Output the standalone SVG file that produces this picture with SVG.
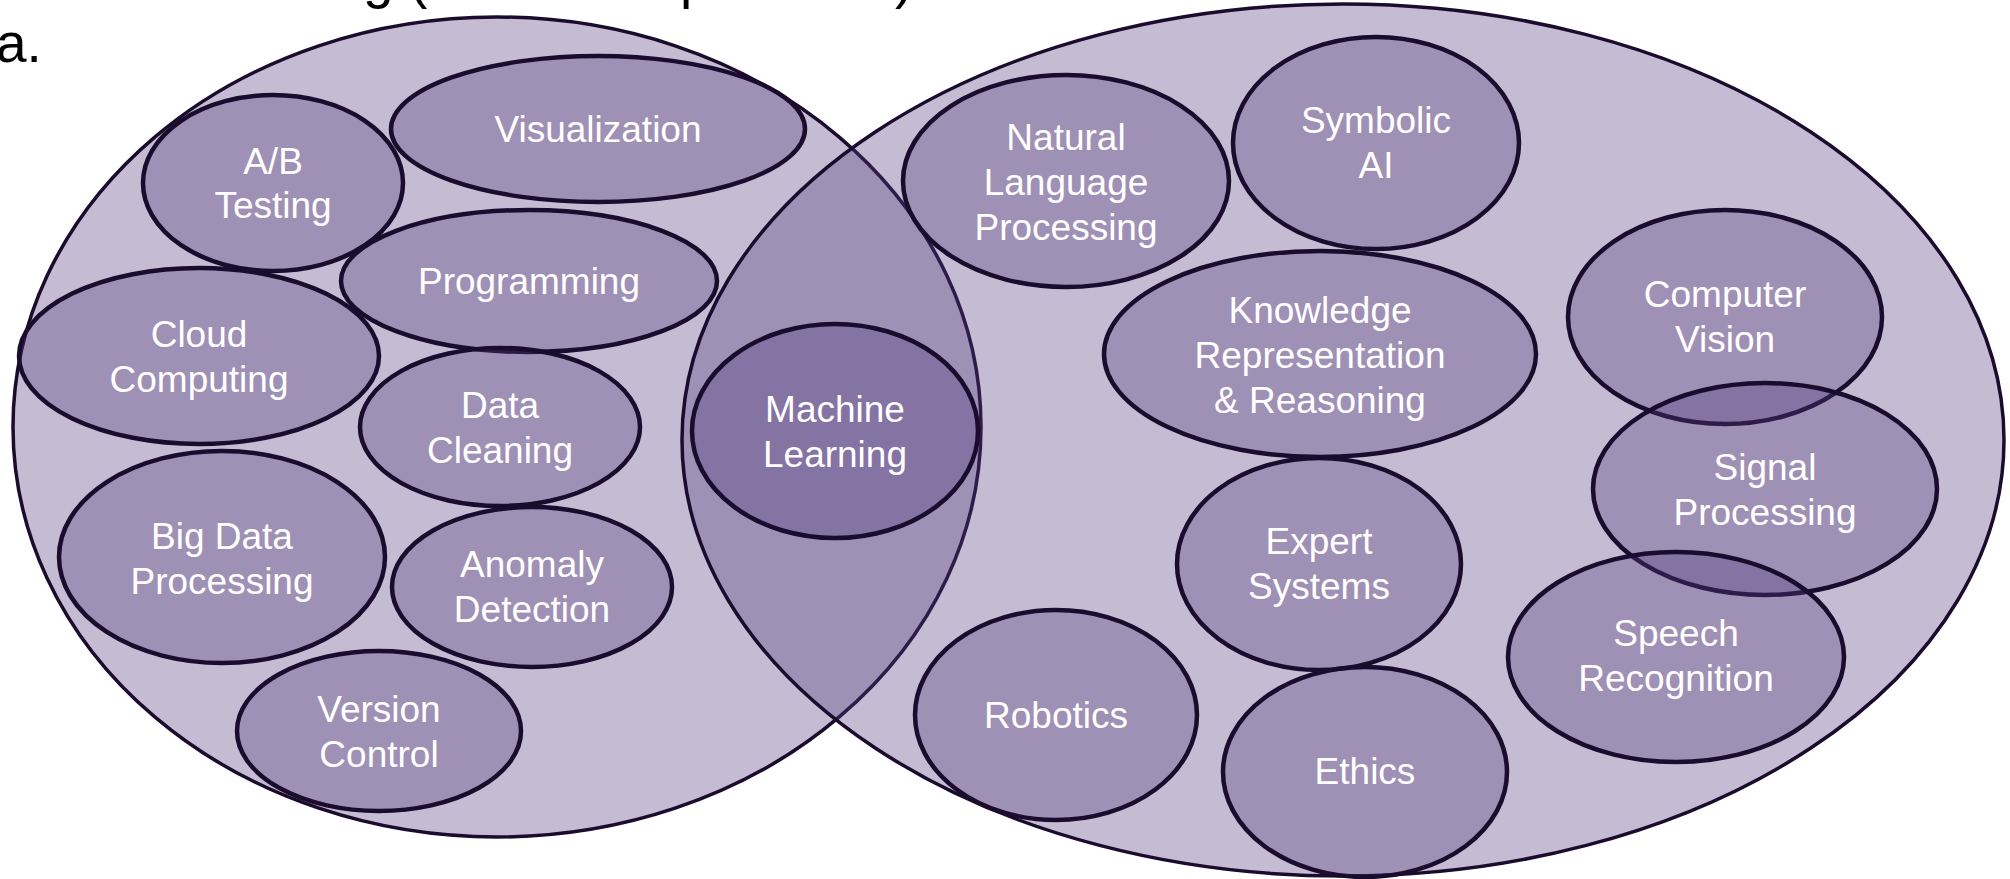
<svg xmlns="http://www.w3.org/2000/svg" width="2010" height="879" viewBox="0 0 2010 879">
<style>
.big{fill:#543a7e;fill-opacity:0.34;stroke:#1b0c2e;stroke-width:3.5}
.n{fill:#543a7e;fill-opacity:0.34;stroke:#1b0c2e;stroke-width:4.5}
.t{font-family:"Liberation Sans",Arial,sans-serif;font-size:37px;fill:#ffffff;text-anchor:middle}
.h{font-family:"Liberation Sans",Arial,sans-serif;font-size:55px;fill:#000000}
</style>
<rect width="2010" height="879" fill="#ffffff"/>
<text class="h" x="-2" y="-3"><tspan x="363">g</tspan><tspan x="409">(</tspan><tspan x="680">p</tspan><tspan x="895">)</tspan></text>
<text class="h" x="-4" y="62">a.</text>
<g id="data-science"><ellipse class="big" cx="497" cy="427" rx="484" ry="410"/></g>
<g id="artificial-intelligence"><ellipse class="big" cx="1343" cy="440" rx="661" ry="436"/></g>
<g id="connectors"></g>
<g id="visualization"><ellipse class="n" cx="598" cy="129" rx="207" ry="73"/><text class="t" x="598" y="142">Visualization</text></g>
<g id="ab-testing"><ellipse class="n" cx="273" cy="183" rx="130" ry="88"/><text class="t" x="273" y="174">A/B</text><text class="t" x="273" y="218">Testing</text></g>
<g id="programming"><ellipse class="n" cx="529" cy="281" rx="188" ry="71"/><text class="t" x="529" y="294">Programming</text></g>
<g id="cloud-computing"><ellipse class="n" cx="199" cy="356" rx="180" ry="88"/><text class="t" x="199" y="347">Cloud</text><text class="t" x="199" y="392">Computing</text></g>
<g id="data-cleaning"><ellipse class="n" cx="500" cy="427" rx="140" ry="79"/><text class="t" x="500" y="418">Data</text><text class="t" x="500" y="463">Cleaning</text></g>
<g id="machine-learning"><ellipse class="n" cx="835" cy="431" rx="143" ry="107"/><text class="t" x="835" y="422">Machine</text><text class="t" x="835" y="467">Learning</text></g>
<g id="big-data"><ellipse class="n" cx="222" cy="557" rx="163" ry="106"/><text class="t" x="222" y="549">Big Data</text><text class="t" x="222" y="594">Processing</text></g>
<g id="anomaly-detection"><ellipse class="n" cx="532" cy="587" rx="140" ry="80"/><text class="t" x="532" y="577">Anomaly</text><text class="t" x="532" y="622">Detection</text></g>
<g id="version-control"><ellipse class="n" cx="379" cy="731" rx="142" ry="80"/><text class="t" x="379" y="722">Version</text><text class="t" x="379" y="767">Control</text></g>
<g id="nlp"><ellipse class="n" cx="1066" cy="181" rx="163" ry="106"/><text class="t" x="1066" y="150">Natural</text><text class="t" x="1066" y="195">Language</text><text class="t" x="1066" y="240">Processing</text></g>
<g id="symbolic-ai"><ellipse class="n" cx="1376" cy="143" rx="143" ry="106"/><text class="t" x="1376" y="133">Symbolic</text><text class="t" x="1376" y="178">AI</text></g>
<g id="knowledge-representation"><ellipse class="n" cx="1320" cy="354" rx="216" ry="103"/><text class="t" x="1320" y="323">Knowledge</text><text class="t" x="1320" y="368">Representation</text><text class="t" x="1320" y="413">&amp; Reasoning</text></g>
<g id="computer-vision"><ellipse class="n" cx="1725" cy="317" rx="157" ry="107"/><text class="t" x="1725" y="307">Computer</text><text class="t" x="1725" y="352">Vision</text></g>
<g id="signal-processing"><ellipse class="n" cx="1765" cy="489" rx="172" ry="106"/><text class="t" x="1765" y="480">Signal</text><text class="t" x="1765" y="525">Processing</text></g>
<g id="speech-recognition"><ellipse class="n" cx="1676" cy="657" rx="168" ry="105"/><text class="t" x="1676" y="646">Speech</text><text class="t" x="1676" y="691">Recognition</text></g>
<g id="expert-systems"><ellipse class="n" cx="1319" cy="564" rx="142" ry="106"/><text class="t" x="1319" y="554">Expert</text><text class="t" x="1319" y="599">Systems</text></g>
<g id="ethics"><ellipse class="n" cx="1365" cy="772" rx="142" ry="105"/><text class="t" x="1365" y="784">Ethics</text></g>
<g id="robotics"><ellipse class="n" cx="1056" cy="715" rx="141" ry="105"/><text class="t" x="1056" y="728">Robotics</text></g>
</svg>
